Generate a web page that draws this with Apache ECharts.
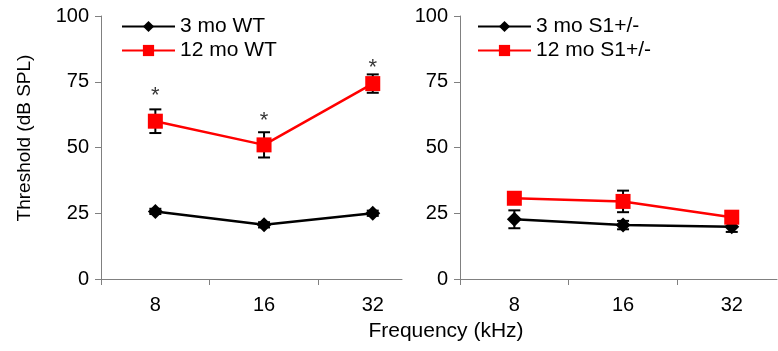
<!DOCTYPE html>
<html><head><meta charset="utf-8">
<script src="https://cdn.jsdelivr.net/npm/echarts@6/dist/echarts.min.js"></script>
<style>html,body{margin:0;padding:0;background:#fff}#c{width:778px;height:351px}</style>
</head><body><div id="c"></div>
<script>
const categories = ['8', '16', '32'];
const catIndex = [0, 1, 2];
const yMin = 0, yMax = 100, yStep = 25;

const wt3 = [25.7, 20.6, 25.0];
const wt3Err = [1.0, 1.0, 1.0];
const wt12 = [60.0, 51.0, 74.3];
const wt12Err = [4.5, 4.8, 3.5];
const s3 = [22.7, 20.5, 19.9];
const s3Err = [3.4, 1.6, 2.0];
const s12 = [30.7, 29.5, 23.5];
const s12Err = [1.5, 4.1, 1.5];
const asteriskLevel = [70.8, 61.1, 81.4];

const FONT = "'Liberation Sans', Arial, sans-serif";
const AXIS_GRAY = '#808080';

function pts(vals) { return vals.map((v, i) => [catIndex[i], v]); }

function xAx(gi, max) {
  return {
    type: 'value', gridIndex: gi, min: -0.5, max: max,
    axisLine: { show: true, onZero: false, lineStyle: { color: AXIS_GRAY, width: 1 } },
    axisTick: { show: true, customValues: [-0.5, 0.5, 1.5], length: 6, lineStyle: { color: AXIS_GRAY } },
    axisLabel: { customValues: catIndex, formatter: v => categories[Math.round(v)], color: '#000', fontSize: 20, margin: 16, fontFamily: FONT },
    splitLine: { show: false }
  };
}
function yAx(gi) {
  return {
    type: 'value', gridIndex: gi, min: yMin, max: yMax, interval: yStep,
    axisLine: { show: true, onZero: false, lineStyle: { color: AXIS_GRAY, width: 1 } },
    axisTick: { show: true, length: 6, lineStyle: { color: AXIS_GRAY } },
    axisLabel: { color: '#000', fontSize: 20, margin: 12, fontFamily: FONT },
    splitLine: { show: false }
  };
}
function errSeries(gi, vals, errs) {
  return {
    type: 'custom', xAxisIndex: gi, yAxisIndex: gi, z: 1, silent: true,
    data: vals.map((v, i) => [catIndex[i], v - errs[i], v + errs[i]]),
    encode: { x: 0, y: [1, 2] },
    renderItem: (params, api) => {
      const x = api.value(0);
      const lo = api.coord([x, api.value(1)]);
      const hi = api.coord([x, api.value(2)]);
      const w = 6;
      const st = { stroke: '#000', lineWidth: 2 };
      return { type: 'group', children: [
        { type: 'line', shape: { x1: lo[0], y1: lo[1], x2: hi[0], y2: hi[1] }, style: st },
        { type: 'line', shape: { x1: lo[0] - w, y1: lo[1], x2: lo[0] + w, y2: lo[1] }, style: st },
        { type: 'line', shape: { x1: hi[0] - w, y1: hi[1], x2: hi[0] + w, y2: hi[1] }, style: st }
      ]};
    }
  };
}
function lineSeries(gi, name, vals, color, symbol) {
  return {
    type: 'line', name: name, xAxisIndex: gi, yAxisIndex: gi, z: 3,
    data: pts(vals), symbol: symbol, symbolSize: symbol === 'rect' ? 15 : 15,
    lineStyle: { color: color, width: 2.5 }, itemStyle: { color: color },
    emphasis: { disabled: true }, animation: false
  };
}

const chart = echarts.init(document.getElementById('c'), null, { renderer: 'canvas' });
const legendBase = {
  orient: 'vertical', itemWidth: 53, itemHeight: 14, itemGap: 3, padding: 0,
  textStyle: { fontSize: 21, color: '#000', fontFamily: FONT, padding: [0, 0, 0, 0] },
  selectedMode: false
};
chart.setOption({
  animation: false,
  backgroundColor: '#fff',
  textStyle: { fontFamily: FONT },
  grid: [
    { left: 101, top: 16, width: 301, height: 263 },
    { left: 460, top: 16, width: 317, height: 263 }
  ],
  xAxis: [xAx(0, -0.5 + 301 / 108.7), xAx(1, -0.5 + 317 / 108.7)],
  yAxis: [yAx(0), yAx(1)],
  legend: [
    Object.assign({}, legendBase, { data: ['3 mo WT', '12 mo WT'], left: 121, top: 16 }),
    Object.assign({}, legendBase, { data: ['3 mo S1+/-', '12 mo S1+/-'], left: 477, top: 16 })
  ],
  series: [
    errSeries(0, wt3, wt3Err),
    errSeries(0, wt12, wt12Err),
    errSeries(1, s3, s3Err),
    errSeries(1, s12, s12Err),
    lineSeries(0, '3 mo WT', wt3, '#000000', 'diamond'),
    lineSeries(0, '12 mo WT', wt12, '#FF0000', 'rect'),
    lineSeries(1, '3 mo S1+/-', s3, '#000000', 'diamond'),
    lineSeries(1, '12 mo S1+/-', s12, '#FF0000', 'rect'),
    {
      type: 'scatter', xAxisIndex: 0, yAxisIndex: 0, z: 4, silent: true,
      data: pts(asteriskLevel), symbolSize: 0,
      label: { show: true, position: 'inside', formatter: '*', fontSize: 22, color: '#000', fontFamily: FONT, offset: [0, 3] }
    }
  ],
  graphic: [
    { type: 'text', x: 25, y: 138, rotation: Math.PI / 2,
      style: { text: 'Threshold (dB SPL)', fontSize: 19, fontFamily: FONT, fill: '#000', align: 'center', verticalAlign: 'middle' } },
    { type: 'text', x: 446, y: 331,
      style: { text: 'Frequency (kHz)', fontSize: 21, fontFamily: FONT, fill: '#000', align: 'center', verticalAlign: 'middle' } }
  ]
});
</script>
</body></html>
